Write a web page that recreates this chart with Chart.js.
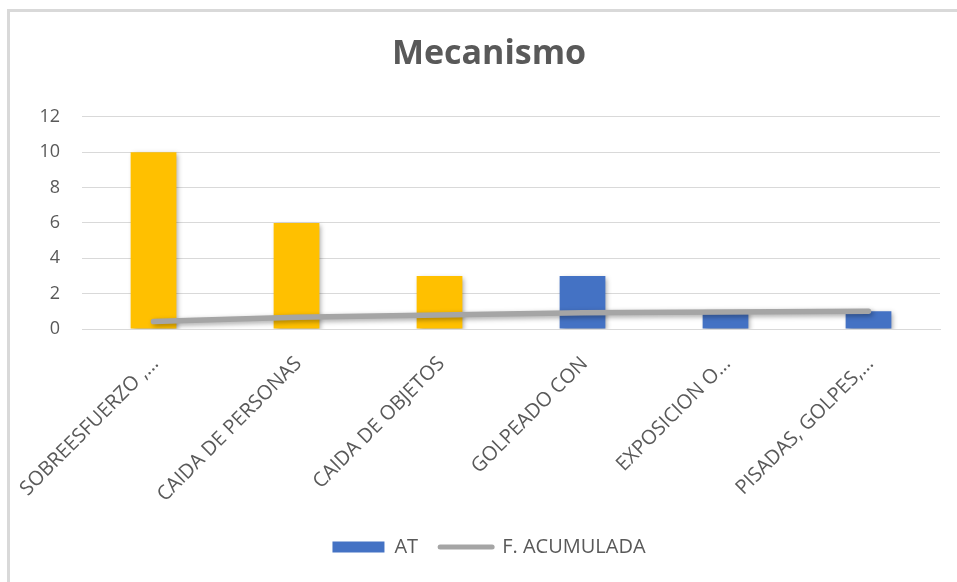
<!DOCTYPE html>
<html>
<head>
<meta charset="utf-8">
<script src="https://cdn.jsdelivr.net/npm/chart.js@4.4.0/dist/chart.umd.min.js"></script>
<style>
  html, body { margin: 0; padding: 0; background: #fff; }
  #wrap { position: relative; width: 957px; height: 582px; overflow: hidden; }
  #frame { position: absolute; left: 7px; top: 9px; width: 980px; height: 600px;
           border: 3px solid #d9d9d9; box-sizing: border-box; pointer-events: none; }
  canvas { position: absolute; left: 0; top: 0; }
</style>
</head>
<body>
<div id="wrap">
  <canvas id="c" width="957" height="582"></canvas>
  <div id="frame"></div>
</div>
<script>
// ---- data ----
const categories = ['SOBREESFUERZO ,...', 'CAIDA DE PERSONAS', 'CAIDA DE OBJETOS', 'GOLPEADO CON', 'EXPOSICION O...', 'PISADAS, GOLPES,...'];
const atValues = [10, 6, 3, 3, 1, 1];
const acumValues = [0.42, 0.67, 0.79, 0.92, 0.96, 1.0];
const yTicks = [0, 2, 4, 6, 8, 10, 12];
const seriesNames = ['AT', 'F. ACUMULADA'];

// ---- style ----
const GOLD = '#FFC000', BLUE = '#4472C4', GRAY = '#A5A5A5', TXT = '#595959';
const FONT = '"Open Sans", Lato, sans-serif';
const barColors = atValues.map((v, i) => i < 3 ? GOLD : BLUE);

const shadowPlugin = {
  id: 'shadow',
  beforeDatasetDraw(chart, args) {
    const ctx = chart.ctx;
    ctx.save();
    ctx.shadowColor = 'rgba(0,0,0,0.35)';
    ctx.shadowBlur = 5;
    ctx.shadowOffsetX = 2;
    ctx.shadowOffsetY = 2;
  },
  afterDatasetDraw(chart) { chart.ctx.restore(); }
};

new Chart(document.getElementById('c'), {
  data: {
    labels: categories,
    datasets: [
      {
        type: 'bar',
        label: seriesNames[0],
        data: atValues,
        backgroundColor: barColors,
        barPercentage: 0.32,
        categoryPercentage: 1.0,
        order: 2
      },
      {
        type: 'line',
        label: seriesNames[1],
        data: acumValues,
        borderColor: GRAY,
        borderWidth: 5.5,
        borderCapStyle: 'round',
        borderJoinStyle: 'round',
        pointRadius: 0,
        tension: 0,
        fill: false,
        order: 1
      }
    ]
  },
  plugins: [shadowPlugin],
  options: {
    responsive: false,
    animation: false,
    layout: { padding: { left: 38, right: 17, top: 0, bottom: 15 } },
    plugins: {
      tooltip: { enabled: false },
      title: {
        display: true,
        text: 'Mecanismo',
        color: TXT,
        font: { family: FONT, size: 34, weight: 'bold' },
        padding: { top: 34, bottom: 42 }
      },
      legend: {
        display: true,
        position: 'bottom',
        labels: {
          color: TXT,
          font: { family: FONT, size: 20 },
          usePointStyle: true,
          pointStyleWidth: 52,
          boxHeight: 11,
          padding: 22,
          generateLabels(chart) {
            return [
              { text: seriesNames[0], pointStyle: 'rect', fillStyle: BLUE, strokeStyle: BLUE, lineWidth: 0, datasetIndex: 0, fontColor: TXT },
              { text: seriesNames[1], pointStyle: 'line', fillStyle: GRAY, strokeStyle: GRAY, lineWidth: 5, lineCap: 'round', datasetIndex: 1, fontColor: TXT }
            ];
          }
        }
      }
    },
    scales: {
      x: {
        grid: { display: false },
        border: { display: true, color: '#d9d9d9', width: 1 },
        ticks: {
          color: TXT,
          font: { family: FONT, size: 20 },
          maxRotation: 45,
          minRotation: 45,
          autoSkip: false,
          padding: 15,
          labelOffset: 2
        },
        afterFit(s) { s.height = 186; }
      },
      y: {
        min: 0,
        max: 12,
        afterBuildTicks(s) { s.ticks = yTicks.map(v => ({ value: v })); },
        grid: { color: '#d9d9d9', drawTicks: false },
        border: { display: false },
        ticks: {
          color: TXT,
          font: { family: FONT, size: 18 },
          padding: 22
        },
        afterFit(s) { s.width = 42; }
      }
    }
  }
});
</script>
</body>
</html>
